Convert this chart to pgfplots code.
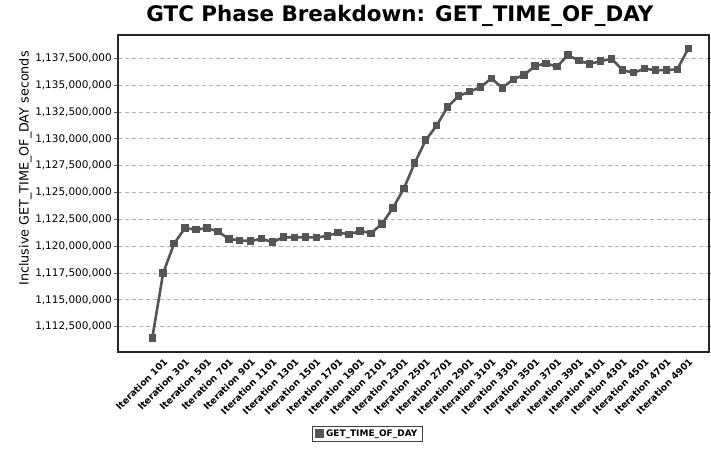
\documentclass[border=0pt]{standalone}
\usepackage{pgfplots}
\usepackage{pgfplotstable}
\pgfplotsset{compat=1.18}
\usepackage{fontspec}
\setmainfont{DejaVu Sans}
\definecolor{lc}{HTML}{555555}
\definecolor{gridc}{HTML}{B4B4B4}
\pgfplotstableread{
idx value
0 1111430000
1 1117500000
2 1120240000
3 1121690000
4 1121530000
5 1121690000
6 1121370000
7 1120680000
8 1120530000
9 1120480000
10 1120700000
11 1120370000
12 1120840000
13 1120810000
14 1120840000
15 1120810000
16 1120940000
17 1121280000
18 1121090000
19 1121420000
20 1121200000
21 1122080000
22 1123550000
23 1125360000
24 1127750000
25 1129870000
26 1131230000
27 1132970000
28 1134000000
29 1134380000
30 1134810000
31 1135630000
32 1134750000
33 1135530000
34 1135960000
35 1136770000
36 1137030000
37 1136710000
38 1137810000
39 1137280000
40 1136970000
41 1137250000
42 1137450000
43 1136400000
44 1136150000
45 1136530000
46 1136400000
47 1136400000
48 1136470000
49 1138400000
}\gtcdata
\begin{document}
\begin{tikzpicture}
\path[use as bounding box] (0bp,0bp) rectangle (711bp,453bp);
\begin{axis}[
  at={(118bp,101bp)}, anchor=south west,
  scale only axis, width=591bp, height=317bp,
  xmin=-3.13, xmax=50.9,
  ymin=1110140000, ymax=1139670000,
  scaled y ticks=false,
  ytick={1112500000,1115000000,1117500000,1120000000,1122500000,1125000000,1127500000,1130000000,1132500000,1135000000,1137500000},
  yticklabels={{1,112,500,000},{1,115,000,000},{1,117,500,000},{1,120,000,000},{1,122,500,000},{1,125,000,000},{1,127,500,000},{1,130,000,000},{1,132,500,000},{1,135,000,000},{1,137,500,000}},
  xtick={1,3,...,49},
  xticklabels={Iteration 101,Iteration 301,Iteration 501,Iteration 701,Iteration 901,Iteration 1101,Iteration 1301,Iteration 1501,Iteration 1701,Iteration 1901,Iteration 2101,Iteration 2301,Iteration 2501,Iteration 2701,Iteration 2901,Iteration 3101,Iteration 3301,Iteration 3501,Iteration 3701,Iteration 3901,Iteration 4101,Iteration 4301,Iteration 4501,Iteration 4701,Iteration 4901},
  xticklabel style={rotate=45, anchor=north east, font=\bfseries\fontsize{9.3}{10}\selectfont, inner sep=1bp},
  yticklabel style={font=\fontsize{10.5}{12}\selectfont, inner sep=2bp},
  xtick style={draw=none},
  ytick style={black!60, line width=0.8bp},
  tick align=outside, major tick length=4bp,
  ymajorgrids,
  major grid style={gridc, dash pattern=on 4bp off 3bp, line width=0.8bp},
  axis line style={black!85, line width=1.2bp},
  title={GTC Phase Breakdown: GET\_TIME\_OF\_DAY},
  title style={at={(axis description cs:0.477,1.04)}, anchor=center, font=\bfseries\fontsize{21.5}{24}\selectfont},
  ylabel={Inclusive GET\_TIME\_OF\_DAY seconds},
  ylabel style={at={(axis description cs:-0.157,0.579)}, anchor=center, font=\fontsize{12.8}{14}\selectfont},
  legend style={at={(axis description cs:0.422,-0.257)}, anchor=center, draw=black!75, line width=0.8bp,
    font=\bfseries\fontsize{9}{10}\selectfont, inner xsep=3bp, inner ysep=1.5bp},
  legend image code/.code={\fill[lc] (0bp,-3bp) rectangle (6bp,3bp);},
]
\addplot[lc, line width=2.6bp, mark=square*, mark size=3.2bp, mark options={fill=lc, draw=lc, line width=0pt}]
  table[x=idx, y=value] {\gtcdata};
\addlegendentry{GET\_TIME\_OF\_DAY}
\end{axis}
\end{tikzpicture}
\end{document}
